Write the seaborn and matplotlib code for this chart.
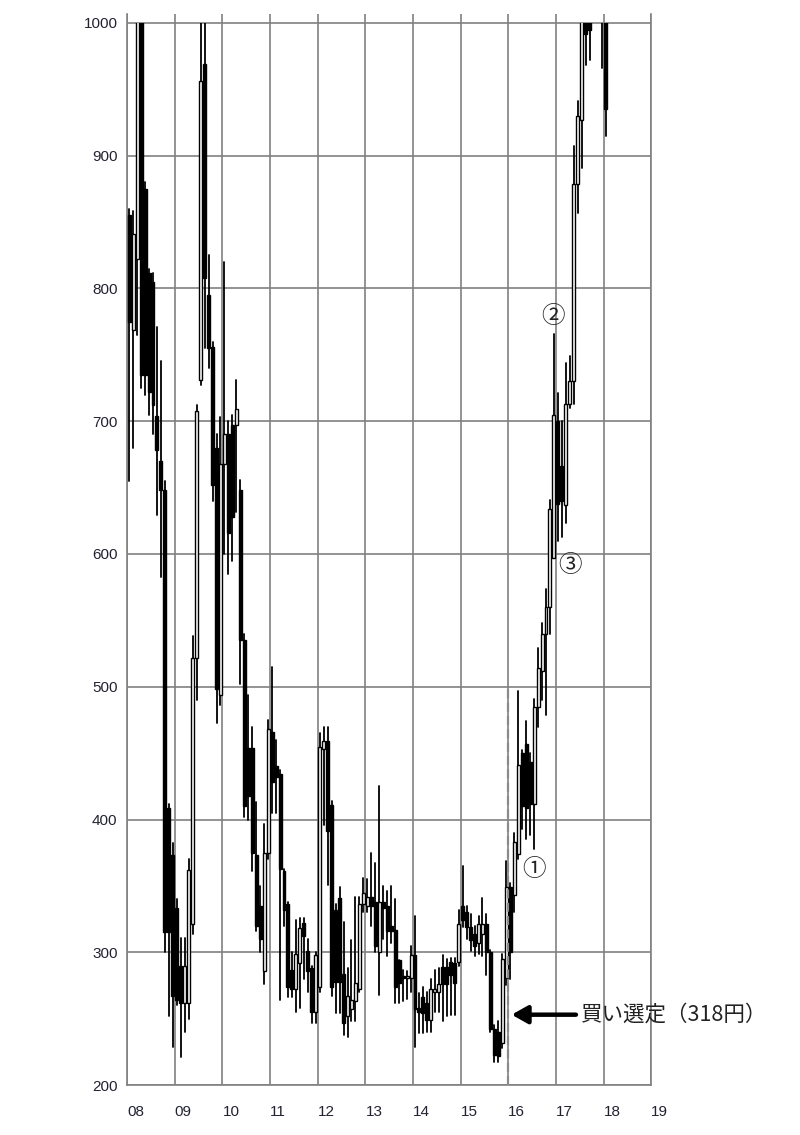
import numpy as np
import pandas as pd
import matplotlib
matplotlib.use("Agg")
import matplotlib.pyplot as plt
from matplotlib.patches import Rectangle
import seaborn as sns

# monthly candles Jan 2008 .. Jan 2018 (prices above 1000 run off the top of the chart)
open_px = [855, 769, 822, 1100, 875, 812, 805, 704, 670, 648, 409, 373,
           333, 290, 262, 262, 321, 522, 731, 969, 795, 756, 680, 494,
           668, 690, 697, 697, 648, 535, 454, 454, 373, 335, 286, 375,
           466, 440, 434, 361, 336, 287, 272, 292, 322, 301, 288, 255,
           274, 453, 459, 411, 332, 341, 284, 252, 257, 263, 272, 336,
           335, 342, 338, 300, 338, 335, 320, 317, 294, 282, 281, 281,
           298, 258, 266, 262, 249, 270, 270, 289, 289, 293, 292, 293,
           335, 330, 319, 314, 307, 314, 321, 300, 242, 240, 232, 281,
           349, 343, 374, 450, 457, 443, 412, 485, 512, 540, 560, 597,
           700, 666, 637, 713, 730, 879, 927, 1040, 1030, 1100, 1120, 1150,
           1100]
high_px = [860, 858, 1150, 1150, 880, 815, 812, 771, 745, 655, 412, 382,
           340, 311, 311, 370, 538, 712, 1050, 1060, 825, 760, 690, 703,
           820, 700, 705, 731, 656, 540, 494, 470, 413, 350, 397, 475,
           515, 460, 437, 363, 338, 300, 324, 326, 326, 310, 290, 300,
           465, 470, 470, 414, 336, 349, 323, 288, 309, 342, 342, 356,
           355, 375, 367, 425, 350, 346, 350, 340, 294, 287, 286, 305,
           327, 269, 274, 270, 280, 287, 288, 298, 295, 296, 296, 332,
           365, 335, 329, 320, 327, 341, 329, 302, 245, 248, 299, 369,
           352, 390, 497, 452, 474, 450, 491, 529, 548, 574, 641, 766,
           721, 700, 744, 749, 907, 941, 1030, 1060, 1080, 1150, 1180, 1200,
           1180]
low_px = [655, 680, 765, 725, 720, 705, 690, 629, 583, 300, 252, 229,
          260, 221, 240, 250, 314, 490, 727, 755, 740, 640, 473, 486,
          600, 585, 595, 632, 502, 402, 400, 361, 316, 300, 276, 370,
          405, 405, 264, 320, 266, 266, 255, 258, 280, 270, 247, 247,
          270, 396, 351, 267, 254, 254, 238, 236, 248, 248, 270, 330,
          330, 320, 300, 268, 310, 297, 307, 262, 262, 263, 265, 270,
          229, 239, 239, 240, 240, 255, 255, 248, 252, 253, 253, 290,
          319, 310, 301, 297, 299, 297, 283, 240, 217, 217, 228, 275,
          280, 330, 370, 393, 385, 388, 378, 470, 490, 479, 540, 597,
          610, 613, 623, 710, 713, 857, 891, 968, 972, 1040, 1060, 966,
          915]
close_px = [775, 841, 1100, 735, 735, 722, 712, 678, 648, 315, 315, 267,
            264, 262, 290, 362, 522, 708, 956, 808, 755, 652, 498, 668,
            690, 616, 628, 709, 535, 410, 418, 375, 320, 310, 375, 468,
            428, 432, 363, 332, 274, 272, 299, 318, 312, 286, 255, 298,
            455, 459, 391, 274, 278, 278, 247, 267, 264, 277, 336, 345,
            342, 335, 305, 338, 333, 316, 316, 274, 277, 281, 282, 298,
            257, 255, 254, 249, 272, 272, 276, 276, 276, 283, 277, 321,
            324, 319, 309, 305, 321, 321, 300, 242, 223, 222, 295, 349,
            300, 383, 441, 410, 409, 412, 485, 514, 540, 560, 634, 705,
            638, 640, 713, 730, 879, 930, 1005, 992, 995, 1120, 1150, 1100,
            935]

year_ticks = list(range(2008, 2020))
year_labels = [f"{y % 100:02d}" for y in year_ticks]
price_ticks = list(range(200, 1001, 100))

buy_year, buy_line_top, arrow_price = 2016, 500, 253
buy_text = "買い選定（318円）"
marks = [("①", 2016.55, 362), ("②", 2016.95, 779), ("③", 2017.29, 591)]

n = len(open_px)
df = pd.DataFrame({"open": open_px, "high": high_px, "low": low_px, "close": close_px})
df["t"] = 2008 + (np.arange(n) + 0.5) / 12
df["up"] = df["close"] >= df["open"]

sns.set_theme(style="whitegrid")
plt.rcParams["font.family"] = ["Liberation Sans", "Noto Sans CJK JP", "DejaVu Sans"]
grid_c = "#808080"
cjk = ["Noto Sans CJK JP", "DejaVu Sans"]

fig = plt.figure(figsize=(8, 11.35), dpi=100)
ax = fig.add_axes([0.159, 0.044, 0.655, 0.944])

# wicks
wicks = pd.DataFrame({
    "t": np.repeat(df["t"].values, 2),
    "price": np.column_stack([df["low"], df["high"]]).ravel(),
    "m": np.repeat(np.arange(n), 2),
})
sns.lineplot(data=wicks, x="t", y="price", units="m", estimator=None, sort=False,
             color="black", lw=1.3, ax=ax, zorder=2)

# bodies
body_lo = df[["open", "close"]].min(axis=1)
body_h = (df["close"] - df["open"]).abs().clip(lower=1.5)
ax.bar(df["t"], body_h, bottom=body_lo, width=0.75 / 12,
       color=np.where(df["up"], "white", "black"), edgecolor="black",
       linewidth=1.0, zorder=3)

clip = Rectangle((2007, 200), 13, 800, transform=ax.transData)
for art in list(ax.lines) + list(ax.patches):
    art.set_clip_path(clip)

ax.set_xlim(2008, 2019)
ax.set_ylim(200, 1007)
ax.set_xticks(year_ticks)
ax.set_xticklabels(year_labels, ha="left")
ax.set_yticks(price_ticks)
ax.set_yticklabels([str(p) for p in price_ticks])
ax.set_xlabel("")
ax.set_ylabel("")
ax.grid(True, color=grid_c, lw=1.2)
ax.set_axisbelow(True)
for side in ["left", "right", "bottom"]:
    ax.spines[side].set_color(grid_c)
    ax.spines[side].set_linewidth(1.2)
ax.spines["top"].set_visible(False)
ax.tick_params(axis="x", length=4, color=grid_c, pad=10, labelsize=11, labelcolor="#222233")
ax.tick_params(axis="y", length=0, pad=7, labelsize=11, labelcolor="#222233")
for lab in ax.get_xticklabels():
    lab.set_x(lab.get_position()[0])

# buy marker
ax.plot([buy_year, buy_year], [200, buy_line_top], ls=(0, (4, 2)), color="#8a8a8a", lw=1.6, zorder=4)
ax.annotate("", xy=(buy_year + 0.07, arrow_price), xytext=(2017.42, arrow_price),
            arrowprops=dict(arrowstyle="-|>,head_length=0.8,head_width=0.45", color="black",
                            lw=3.2, shrinkA=0, shrinkB=0), zorder=5)
ax.text(2017.52, arrow_price, buy_text, ha="left", va="center", fontsize=15.5,
        family=cjk, color="#222222", clip_on=False)

for lab, x, y in marks:
    ax.text(x, y, lab, ha="center", va="center", fontsize=17, family=cjk, color="#222222")

fig.savefig("out.png", dpi=100, facecolor="white")
